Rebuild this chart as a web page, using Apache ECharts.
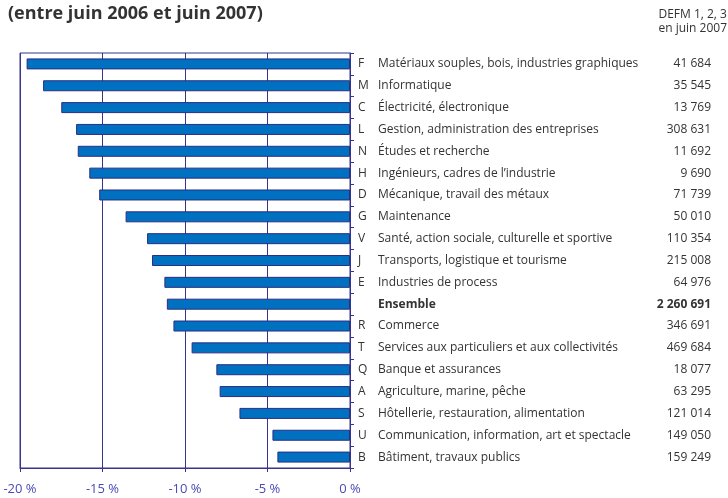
<!DOCTYPE html>
<html>
  <head>
    <meta charset="utf-8" />
    <script src="https://cdn.jsdelivr.net/npm/echarts@6/dist/echarts.min.js"></script>
  </head>
  <body style="margin: 0">
    <div id="main" style="width: 728px; height: 498px"></div>

    <script type="text/javascript">
      // categories, top to bottom
      const codes = ["F", "M", "C", "L", "N", "H", "D", "G", "V", "J", "E", "", "R", "T", "Q", "A", "S", "U", "B"];
      const names = [
        "Matériaux souples, bois, industries graphiques",
        "Informatique",
        "Électricité, électronique",
        "Gestion, administration des entreprises",
        "Études et recherche",
        "Ingénieurs, cadres de l’industrie",
        "Mécanique, travail des métaux",
        "Maintenance",
        "Santé, action sociale, culturelle et sportive",
        "Transports, logistique et tourisme",
        "Industries de process",
        "Ensemble",
        "Commerce",
        "Services aux particuliers et aux collectivités",
        "Banque et assurances",
        "Agriculture, marine, pêche",
        "Hôtellerie, restauration, alimentation",
        "Communication, information, art et spectacle",
        "Bâtiment, travaux publics",
      ];
      // DEFM 1, 2, 3 en juin 2007
      const defm = [
        "41 684", "35 545", "13 769", "308 631", "11 692", "9 690", "71 739", "50 010",
        "110 354", "215 008", "64 976", "2 260 691", "346 691", "469 684", "18 077",
        "63 295", "121 014", "149 050", "159 249",
      ];
      // evolution in %
      const evolution = [
        -19.6, -18.6, -17.5, -16.6, -16.5, -15.8, -15.2, -13.6, -12.3, -12.0, -11.25,
        -11.1, -10.7, -9.6, -8.1, -7.9, -6.7, -4.7, -4.4,
      ];
      const xTicks = [-20, -15, -10, -5, 0];

      const font = "'Open Sans', sans-serif";
      const navy = "#35358f";

      var option = {
        animation: false,
        textStyle: { fontFamily: font },
        title: {
          text: "(entre juin 2006 et juin 2007)",
          left: 3,
          top: 0,
          textStyle: { fontSize: 18, fontWeight: "bold", color: "#333", fontFamily: font },
        },
        graphic: [
          {
            type: "text",
            right: 1,
            top: 8,
            style: {
              text: "DEFM 1, 2, 3\nen juin 2007",
              align: "right",
              fontSize: 12,
              lineHeight: 14,
              fill: "#333",
              fontFamily: font,
            },
          },
        ],
        grid: {
          left: 20,
          right: 378,
          top: 53,
          bottom: 30,
          show: true,
          borderColor: navy,
          borderWidth: 1,
        },
        xAxis: {
          type: "value",
          min: xTicks[0],
          max: xTicks[xTicks.length - 1],
          interval: 5,
          axisLine: { show: true, lineStyle: { color: navy } },
          axisTick: { show: true, length: 4, lineStyle: { color: navy } },
          splitLine: { show: true, lineStyle: { color: navy, width: 1 } },
          axisLabel: {
            margin: 15,
            fontSize: 13,
            color: "#4a4ab4",
            fontFamily: font,
            formatter: (v) => v + " %",
          },
        },
        yAxis: {
          type: "category",
          position: "right",
          inverse: true,
          data: codes.map((c, i) => i),
          axisLine: { show: true, lineStyle: { color: navy } },
          axisTick: { show: true, length: 4, lineStyle: { color: navy } },
          splitLine: { show: false },
          axisLabel: {
            margin: 8,
            align: "left",
            fontFamily: font,
            formatter: function (i) {
              i = Number(i);
              if (names[i] === "Ensemble") {
                return "{c|}{nb|" + names[i] + "}{vb|" + defm[i] + "}";
              }
              return "{c|" + codes[i] + "}{n|" + names[i] + "}{v|" + defm[i] + "}";
            },
            rich: {
              c: { width: 20, fontSize: 12, color: "#333", fontFamily: font },
              n: { width: 258, fontSize: 12, color: "#333", fontFamily: font },
              v: { width: 75, align: "right", fontSize: 12, color: "#333", fontFamily: font },
              nb: { width: 258, fontSize: 12, fontWeight: "bold", color: "#333", fontFamily: font },
              vb: { width: 75, align: "right", fontSize: 12, fontWeight: "bold", color: "#333", fontFamily: font },
            },
          },
        },
        series: [
          {
            type: "bar",
            data: evolution,
            barWidth: 11,
            itemStyle: { color: "#0070c0", borderColor: "#2b2e83", borderWidth: 1 },
          },
        ],
      };

      const myChart = echarts.init(document.getElementById("main"));
      myChart.setOption(option);
    </script>
  </body>
</html>
